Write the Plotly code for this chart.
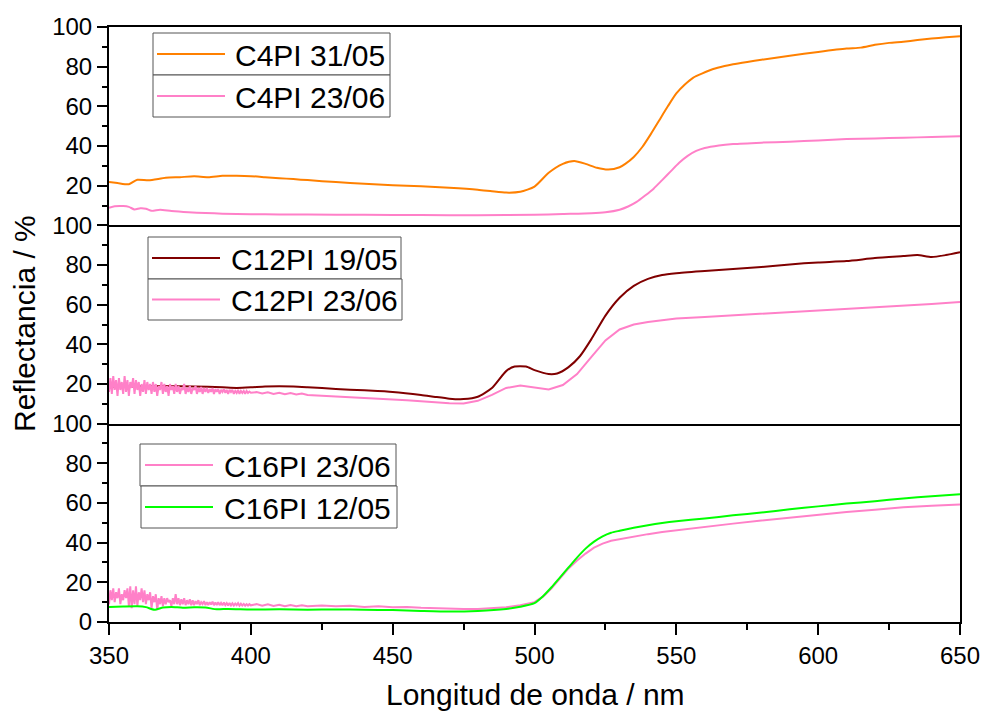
import plotly.graph_objects as go

# ---------------- data (wavelength in nm, reflectance in %) ----------------
# Panel 1: C4PI
wl_c4_3105 = [350, 353, 357, 360, 364, 370, 375, 380, 385, 390, 395, 400, 405, 410, 415, 420,
              430, 440, 450, 460, 470, 480, 485, 490, 495, 500, 505, 510, 514, 518, 522, 526,
              530, 532, 535, 538, 541, 544, 547, 550, 553, 556, 559, 563, 567, 570, 575, 580,
              590, 600, 610, 615, 620, 625, 630, 635, 640, 645, 650]
r_c4_3105 = [21.8, 21.3, 20.7, 23.0, 22.7, 24.0, 24.3, 24.7, 24.3, 25.0, 25.0, 24.8, 24.3, 23.8, 23.3, 22.8,
             21.8, 21.0, 20.2, 19.7, 19.0, 18.0, 17.2, 16.5, 16.9, 19.5, 26.5, 31.0, 32.4, 31.0, 29.0, 28.1,
             29.3, 31.0, 34.5, 39.5, 46.0, 53.0, 60.0, 66.5, 71.0, 74.5, 76.5, 78.8, 80.3, 81.2, 82.4, 83.5,
             85.5, 87.4, 89.1, 89.6, 91.0, 92.0, 92.6, 93.4, 94.2, 94.8, 95.3]

wl_c4_2306 = [350, 352, 355, 357, 359, 361, 363, 365, 368, 372, 378, 384, 390, 400, 410, 420,
              440, 460, 480, 500, 510, 520, 525, 530, 533, 536, 539, 542, 545, 548, 551, 554,
              557, 560, 565, 570, 580, 590, 600, 610, 620, 630, 640, 650]
r_c4_2306 = [8.9, 9.6, 9.7, 9.3, 8.0, 8.6, 8.4, 7.3, 7.8, 7.2, 6.6, 6.2, 5.9, 5.6, 5.5, 5.4,
             5.3, 5.2, 5.1, 5.3, 5.7, 6.1, 6.6, 7.9, 9.5, 11.8, 15.0, 18.5, 22.8, 27.2, 31.5, 35.0,
             37.5, 39.0, 40.3, 41.0, 41.7, 42.2, 42.8, 43.5, 43.8, 44.2, 44.5, 44.9]

# Panel 2: C12PI
wl_c12_1905 = [350, 360, 370, 380, 390, 395, 400, 405, 410, 415, 420, 430, 440, 450, 460, 465,
               470, 475, 480, 485, 490, 493, 497, 500, 505, 508, 512, 516, 520, 525, 530, 535,
               540, 545, 550, 560, 570, 580, 590, 600, 610, 620, 630, 635, 640, 645, 650]
r_c12_1905 = [18.5, 18.8, 19.0, 18.8, 18.3, 18.0, 18.3, 18.8, 18.9, 18.8, 18.4, 17.5, 16.8, 16.0, 14.5, 13.5,
              12.6, 12.4, 13.6, 18.0, 26.5, 28.8, 28.8, 27.0, 25.0, 25.3, 28.5, 34.0, 42.5, 54.5, 63.5, 69.5,
              73.0, 75.0, 75.9, 77.0, 78.0, 79.0, 80.3, 81.3, 82.0, 83.5, 84.5, 85.0, 84.0, 85.0, 86.5]

wl_c12_2306 = [350 + 0.5 * i for i in range(101)] + [
    402, 404, 406, 408, 410, 412, 414, 416, 418, 420, 425, 430, 435, 440, 445, 450, 455, 460,
    465, 470, 475, 480, 485, 490, 495, 500, 505, 510, 515, 520,
    525, 530, 535, 540, 545, 550, 560, 570, 580, 590, 600, 610,
    620, 630, 640, 650]
r_c12_2306 = [16, 23, 15, 24, 17, 22, 14, 23, 17, 21, 15, 24, 16, 22, 14, 21, 18, 23, 15, 22,
              17, 21, 14, 20, 16, 22, 15, 21, 17, 20, 15, 21, 16, 20, 14, 19, 17, 21, 15, 20,
              16, 19, 14, 20, 17, 19, 15, 20, 16, 19, 15, 18, 17, 20, 15, 18, 16, 19, 15, 18,
              17, 19, 15, 18, 16, 18.5, 15, 18, 16, 18, 15.5, 17.5, 16, 18, 15, 17.5, 16, 17.5, 15, 17,
              16, 17.5, 15.5, 17, 15, 17, 16, 17, 15, 16.5, 15.5, 17, 15, 16.5, 15.5, 16.5, 15, 16.5, 15.5, 16.2,
              15.6,
              15.9, 15.2, 15.8, 15.0, 15.6, 14.9, 15.4, 14.7, 15.2, 14.5, 14.2, 13.9, 13.4, 13.0, 12.6, 12.3,
              11.8, 11.3, 10.8, 10.3, 10.2, 11.5, 14.5, 18.0, 19.2, 18.3, 17.2, 19.5, 25.0, 33.5,
              42.0, 47.5, 50.0, 51.3, 52.3, 53.0, 53.8, 54.6, 55.3, 56.0, 57.0, 57.8,
              58.6, 59.4, 60.3, 61.3]

# Panel 3: C16PI
wl_c16_2306 = [350 + 0.5 * i for i in range(101)] + [
    402, 404, 406, 408, 410, 412, 414, 416, 418, 420, 425, 430,
    435, 440, 445, 450, 455, 460, 465, 470, 475, 480, 485, 490,
    495, 500, 503, 506, 509, 512, 515, 518, 521, 524, 527, 530,
    535, 540, 545, 550, 560, 570, 580, 590, 600, 610, 620, 630,
    640, 650]
r_c16_2306 = [9, 16, 11, 17, 10, 15, 12, 17, 9, 14, 11, 16, 12, 17, 8, 18, 7, 16, 9, 18,
              8, 15, 11, 17, 10, 16, 9, 14, 11, 15, 7, 13, 10, 14, 6, 12, 9, 13, 8, 12,
              9, 12, 10, 11, 8, 12, 9, 14, 9, 12, 8.5, 11.5, 9, 12, 8.5, 11, 9, 11.5, 8.5, 11,
              8.5, 10.5, 9, 11, 8.5, 10, 9, 10.5, 8.5, 10, 8.6, 10, 8.8, 10.3, 8.5, 9.8, 8.6, 10, 8.5, 9.6,
              8.4, 9.8, 8.5, 9.5, 8.3, 9.6, 8.4, 9.4, 8.3, 9.3, 8.5, 9.5, 8.2, 9.2, 8.3, 9.1, 8.2, 9.0, 8.3, 9.0,
              8.4,
              9.0, 8.2, 8.9, 8.1, 8.7, 8.0, 8.6, 8.0, 8.5, 7.9, 8.3, 7.9,
              8.2, 7.6, 7.9, 7.4, 7.6, 7.2, 6.9, 6.6, 6.5, 6.6, 6.9, 7.4,
              8.5, 10.0, 12.8, 17.0, 22.0, 27.0, 31.0, 34.5, 37.5, 39.5, 41.0, 41.8,
              43.0, 44.3, 45.4, 46.3, 48.1, 49.6, 51.2, 52.7, 54.1, 55.5, 56.6, 57.8,
              58.6, 59.3]

wl_c16_1205 = [350, 355, 360, 363, 366, 369, 372, 376, 380, 384, 388, 392, 400, 410, 420, 430,
               440, 450, 460, 470, 480, 490, 495, 500, 503, 506, 509, 512, 515, 518, 521, 524,
               527, 530, 535, 540, 545, 550, 560, 570, 580, 590, 600, 610, 620, 630, 640, 650]
r_c16_1205 = [7.6, 7.8, 7.9, 7.5, 6.2, 7.3, 7.6, 7.2, 7.4, 7.3, 6.4, 6.6, 6.3, 6.4, 6.2, 6.3,
              6.2, 6.0, 5.6, 5.3, 5.6, 6.6, 7.7, 9.5, 13.0, 17.5, 22.5, 27.5, 32.5, 37.0, 40.5, 43.2,
              45.0, 46.0, 47.5, 48.8, 49.9, 50.8, 52.2, 53.8, 55.2, 56.8, 58.3, 59.7, 60.9, 62.3, 63.4, 64.4]

ORANGE = "#FF8000"
PINK = "#FF80C8"
WINE = "#800000"
GREEN = "#00FF00"

# (name, x, y, colour, panel, noisy)
series = [
    ("C4PI 31/05", wl_c4_3105, r_c4_3105, ORANGE, 1, False),
    ("C4PI 23/06", wl_c4_2306, r_c4_2306, PINK, 1, False),
    ("C12PI 19/05", wl_c12_1905, r_c12_1905, WINE, 2, False),
    ("C12PI 23/06", wl_c12_2306, r_c12_2306, PINK, 2, True),
    ("C16PI 23/06", wl_c16_2306, r_c16_2306, PINK, 3, True),
    ("C16PI 12/05", wl_c16_1205, r_c16_1205, GREEN, 3, False),
]

FONT = "Liberation Sans, Arial, sans-serif"

fig = go.Figure()
for name, x, y, col, panel, noisy in series:
    suffix = "" if panel == 1 else str(panel)
    line = dict(color=col, width=2)
    if not noisy:
        line.update(shape="spline", smoothing=0.6)
    fig.add_trace(go.Scatter(x=x, y=y, name=name, mode="lines", line=line,
                             xaxis="x" + suffix, yaxis="y" + suffix, showlegend=False))

# ---------------- layout ----------------
L, R, T, B = 109, 22, 27, 89
W, H = 982, 711
PW, PH = W - L - R, H - T - B


def pxx(x):
    return (x - L) / PW


def pxy(y):
    return (H - B - y) / PH


axis_common = dict(showline=True, linewidth=2, linecolor="black",
                   showgrid=False, zeroline=False, automargin=False)

domains = {1: [2 / 3, 1.0], 2: [1 / 3, 2 / 3], 3: [0.0, 1 / 3]}
layout = dict(width=W, height=H, margin=dict(l=L, r=R, t=T, b=B, autoexpand=False),
              paper_bgcolor="white", plot_bgcolor="white",
              font=dict(family=FONT, color="black", size=22))

for p in (1, 2, 3):
    suffix = "" if p == 1 else str(p)
    # only the top panel mirrors its x line; the other panel tops coincide
    # with the bottom line of the panel above
    xa = dict(axis_common, range=[350, 650], anchor="y" + suffix, domain=[0, 1],
              mirror=(p == 1))
    if p == 3:
        xa.update(ticks="outside", ticklen=11, tickwidth=2, tickcolor="black",
                  tickvals=[350, 400, 450, 500, 550, 600, 650],
                  tickfont=dict(size=24, family=FONT),
                  minor=dict(ticks="outside", ticklen=6, tickwidth=2, tickcolor="black",
                             tickvals=[375, 425, 475, 525, 575, 625]))
    else:
        xa.update(matches="x3", ticks="", showticklabels=False)
    layout["xaxis" + suffix] = xa

    yvals = [0, 20, 40, 60, 80, 100] if p == 3 else [20, 40, 60, 80, 100]
    layout["yaxis" + suffix] = dict(axis_common, range=[0, 100], domain=domains[p],
                                    anchor="x" + suffix, mirror=True, ticks="outside",
                                    ticklen=10, tickwidth=2, tickcolor="black", tickvals=yvals,
                                    tickfont=dict(size=24, family=FONT),
                                    minor=dict(ticks="outside", ticklen=5, tickwidth=2,
                                               tickcolor="black",
                                               tickvals=[10, 30, 50, 70, 90]))

fig.update_layout(**layout)

# Boxed legend entries, one box per series (pixel positions of each box)
legend_boxes = [
    # name, colour, box x0, box x1, box y0, box y1, line x0, line x1, text x
    ("C4PI 31/05", ORANGE, 153, 390, 33, 75, 157, 225, 233),
    ("C4PI 23/06", PINK, 153, 390, 75, 117, 157, 225, 233),
    ("C12PI 19/05", WINE, 148, 401, 237, 279, 152, 220, 229),
    ("C12PI 23/06", PINK, 148, 402, 279, 320, 152, 220, 229),
    ("C16PI 23/06", PINK, 140, 396, 444, 486, 145, 213, 222),
    ("C16PI 12/05", GREEN, 141, 397, 486, 528, 145, 213, 222),
]
shapes = []
annotations = []
for name, col, bx0, bx1, by0, by1, lx0, lx1, tx in legend_boxes:
    ym = (by0 + by1) / 2
    shapes.append(dict(type="rect", xref="paper", yref="paper",
                       x0=pxx(bx0), x1=pxx(bx1), y0=pxy(by1), y1=pxy(by0),
                       line=dict(color="#555555", width=1), fillcolor="white", layer="above"))
    shapes.append(dict(type="line", xref="paper", yref="paper",
                       x0=pxx(lx0), x1=pxx(lx1), y0=pxy(ym), y1=pxy(ym),
                       line=dict(color=col, width=2), layer="above"))
    annotations.append(dict(text=name, xref="paper", yref="paper", x=pxx(tx), y=pxy(ym + 1),
                            xanchor="left", yanchor="middle", showarrow=False,
                            font=dict(size=30, family=FONT, color="black")))

annotations.append(dict(text="Longitud de onda / nm", xref="paper", yref="paper",
                        x=pxx(535), y=pxy(694), xanchor="center", yanchor="middle",
                        showarrow=False, font=dict(size=30, family=FONT, color="black")))
annotations.append(dict(text="Reflectancia / %", xref="paper", yref="paper",
                        x=pxx(24), y=pxy(324), xanchor="center", yanchor="middle",
                        textangle=-90, showarrow=False,
                        font=dict(size=30, family=FONT, color="black")))

fig.update_layout(shapes=shapes, annotations=annotations)

fig.write_html("out.html")
